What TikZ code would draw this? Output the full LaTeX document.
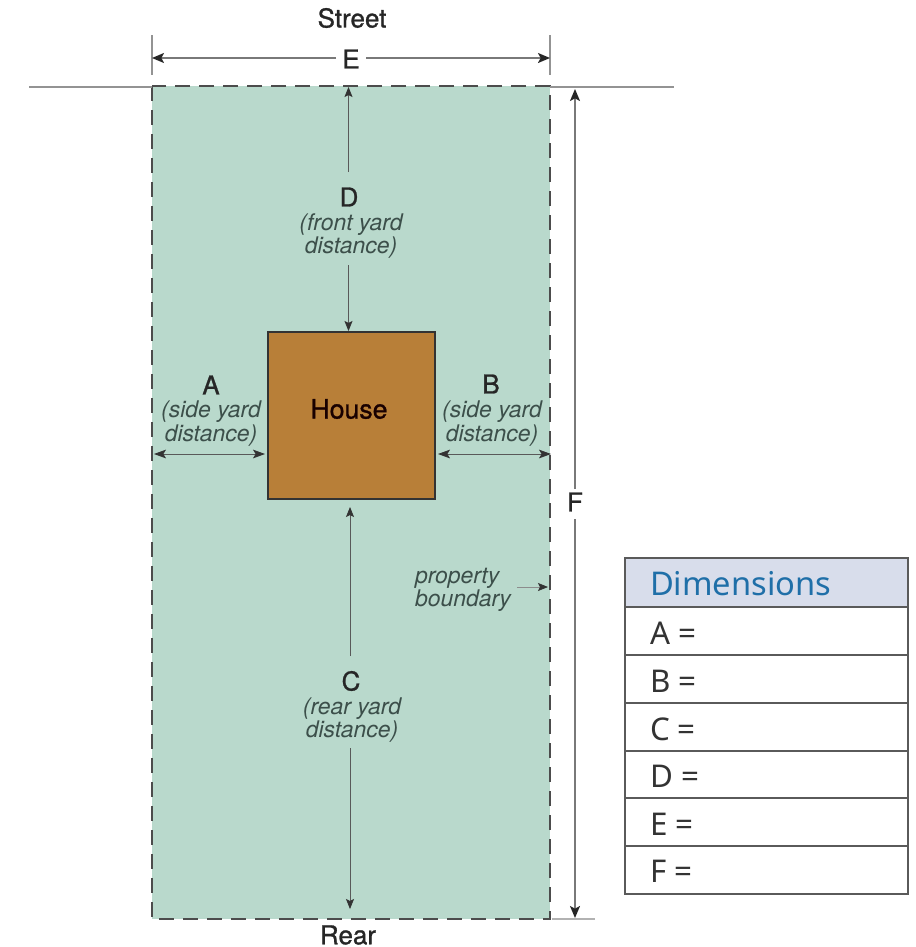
\documentclass[tikz,border=0pt]{standalone}
\usepackage{fontspec}
\setmainfont{TeX Gyre Heros}
\newfontfamily\medfont[FakeBold=1.0]{TeX Gyre Heros}
\newfontfamily\tablefont{Noto Sans}
\usetikzlibrary{arrows.meta}
\definecolor{lawn}{HTML}{B9D9CC}
\definecolor{brick}{HTML}{B87F38}
\definecolor{headblue}{HTML}{D8DDEB}
\definecolor{titleblue}{HTML}{1F6FA8}
\definecolor{noteink}{HTML}{3C4F4A}
\definecolor{edgegray}{HTML}{5A5A5A}
\tikzset{
  px/.style={x=0.75pt,y=-0.75pt},
  head/.style={inner sep=0pt,outer sep=0pt,text=black!85,font=\medfont\fontsize{19.5pt}{20pt}\selectfont},
  note/.style={inner sep=0pt,outer sep=0pt,text=noteink,align=center,font=\fontsize{17.2pt}{17.4pt}\selectfont\itshape},
  tick/.style={draw=gray!85,line width=0.8pt},
  road/.style={draw=gray!85,line width=1.9pt},
  bigdim/.style={draw=gray!95!black,line width=1.2pt,-{Stealth[length=9pt,width=7.5pt,inset=2pt,color=black!85]}},
  smalldim/.style={draw=black!65,line width=0.6pt,-{Stealth[length=7.5pt,width=6pt,inset=1.5pt,color=black!80]}},
  twodim/.style={draw=black!65,line width=0.6pt,{Stealth[length=9pt,width=6.5pt,inset=2pt,color=black!80]}-{Stealth[length=9pt,width=6.5pt,inset=2pt,color=black!80]}},
  rowbox/.style={draw=edgegray,line width=1.2pt,fill=white,minimum width=212.25pt,minimum height=36pt,inner sep=0pt,outer sep=0pt,anchor=north west},
  rowtext/.style={inner sep=0pt,outer sep=0pt,anchor=base west,text=black!80,font=\tablefont\fontsize{23.5pt}{24pt}\selectfont}
}
\begin{document}
\begin{tikzpicture}[px]
\useasboundingbox (0,0) rectangle (915,947);
% lot
\node[draw=none,fill=lawn,minimum width=298.5pt,minimum height=624.75pt,inner sep=0pt,outer sep=0pt,anchor=north west] (lot) at (152,86) {};
\draw[draw=black!70,line width=1.1pt,dash pattern=on 11.5pt off 6.5pt] (lot.north west) rectangle (lot.south east);
% street line and ticks
\coordinate (roadL) at (29,87);
\coordinate (roadLe) at (152,87);
\coordinate (roadRs) at (550,87);
\coordinate (roadR) at (674,87);
\draw[road] (roadL) -- (roadLe);
\draw[road] (roadRs) -- (roadR);
\coordinate (tickLa) at (152,35);
\coordinate (tickLb) at (152,75);
\coordinate (tickRa) at (550,35);
\coordinate (tickRb) at (550,75);
\coordinate (tickBa) at (552,919);
\coordinate (tickBb) at (595,919);
\draw[tick] (tickLa) -- (tickLb);
\draw[tick] (tickRa) -- (tickRb);
\draw[tick,draw=gray!60] (tickBa) -- (tickBb);
% house
\node[draw=black!80,line width=1.9pt,fill=brick,minimum width=125.25pt,minimum height=125.25pt,inner sep=0pt,outer sep=0pt,anchor=north west] (house) at (268,332) {};
\node[inner sep=0pt,text=black!90!red,font=\medfont\fontsize{20pt}{20pt}\selectfont] (houselabel) at (349,409) {House};
% labels
\node[head] (street) at (352,18) {Street};
\node[head] (rear) at (348,935) {Rear};
\node[head] (E) at (351,59) {E};
\node[head] (F) at (575,502) {F};
\node[head] (D) at (349,197) {D};
\node[note] (dnote) at (351,236) {(front yard\\distance)};
\node[head] (A) at (211,385) {A};
\node[note] (anote) at (211,423.5) {(side yard\\distance)};
\node[head] (B) at (491,384) {B};
\node[note] (bnote) at (492,423.5) {(side yard\\distance)};
\node[head] (C) at (351,681) {C};
\node[note] (cnote) at (352,720) {(rear yard\\distance)};
\node[note,align=left,anchor=west] (pnote) at (415,590) {property\\boundary};
% big dimension arrows
\coordinate (Ea) at (152,58);
\coordinate (Eb) at (550,58);
\coordinate (Ega) at (336,58);
\coordinate (Egb) at (366,58);
\draw[bigdim] (Ega) -- (Ea);
\draw[bigdim] (Egb) -- (Eb);
\coordinate (Fa) at (575,89);
\coordinate (Fb) at (575,918);
\coordinate (Fga) at (575,489);
\coordinate (Fgb) at (575,519);
\draw[bigdim] (Fga) -- (Fa);
\draw[bigdim] (Fgb) -- (Fb);
% small dimension arrows
\coordinate (Da) at (348.5,87);
\coordinate (Dga) at (348.5,172);
\coordinate (Dgb) at (348.5,265);
\coordinate (Db) at (348.5,331);
\draw[smalldim] (Dga) -- (Da);
\draw[smalldim] (Dgb) -- (Db);
\coordinate (Ca) at (350,507);
\coordinate (Cga) at (350,656);
\coordinate (Cgb) at (350,748);
\coordinate (Cb) at (350,909);
\draw[smalldim] (Cga) -- (Ca);
\draw[smalldim] (Cgb) -- (Cb);
\coordinate (Aa) at (154,454);
\coordinate (Ab) at (265,454);
\draw[twodim] (Aa) -- (Ab);
\coordinate (Ba) at (438,454);
\coordinate (Bb) at (551,454);
\draw[twodim] (Ba) -- (Bb);
\coordinate (Pa) at (517,587);
\coordinate (Pb) at (548,587);
\draw[draw=gray!90,line width=0.6pt,-{Stealth[length=7.5pt,width=6pt,inset=1.5pt,color=black!80]}] (Pa) -- (Pb);
% table
\node[rowbox,fill=headblue,minimum height=36.75pt] (thead) at (625,558) {};
\node[rowtext,text=titleblue,font=\tablefont\fontsize{24.5pt}{24pt}\selectfont] (ttitle) at (650,595) {Dimensions};
\node[rowbox] (r1) at (625,607) {};
\node[rowbox] (r2) at (625,655) {};
\node[rowbox] (r3) at (625,703) {};
\node[rowbox] (r4) at (625,751) {};
\node[rowbox] (r5) at (625,798) {};
\node[rowbox] (r6) at (625,846) {};
\node[rowtext] (t1) at (650,644) {A =};
\node[rowtext] (t2) at (650,692) {B =};
\node[rowtext] (t3) at (650,740) {C =};
\node[rowtext] (t4) at (650,787) {D =};
\node[rowtext] (t5) at (650,835) {E =};
\node[rowtext] (t6) at (650,882) {F =};
\end{tikzpicture}
\end{document}
